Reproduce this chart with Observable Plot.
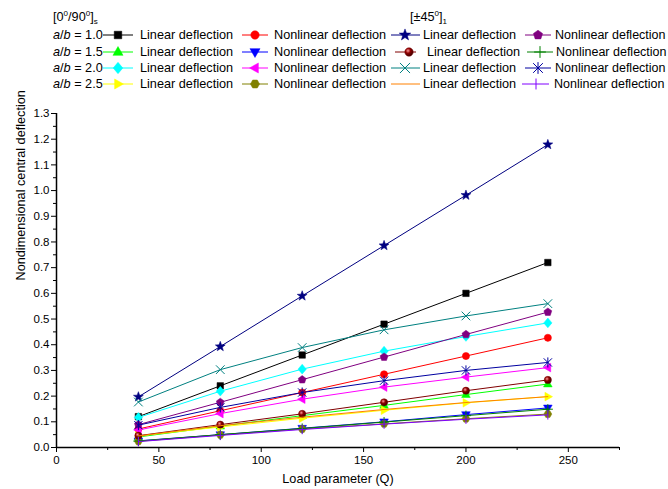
<!DOCTYPE html>
<html><head><meta charset="utf-8">
<script src="https://cdn.jsdelivr.net/npm/d3@7"></script>
<script src="https://cdn.jsdelivr.net/npm/@observablehq/plot@0.6"></script>
<style>
body{margin:0;background:#fff;font-family:"Liberation Sans",Arial,sans-serif;}
#chart{width:668px;height:489px;overflow:hidden;}
#chart svg{display:block;}
</style></head><body><div id="chart"></div>
<script>
// ---- data ----
const loads = [40, 80, 120, 160, 200, 240];
const xMajorTicks = [0, 50, 100, 150, 200, 250];
const xMinorTicks = [25, 75, 125, 175, 225, 275];
const yMajorTicks = [0, 0.1, 0.2, 0.3, 0.4, 0.5, 0.6, 0.7, 0.8, 0.9, 1.0, 1.1, 1.2, 1.3];
const yMinorTicks = [0.05, 0.15, 0.25, 0.35, 0.45, 0.55, 0.65, 0.75, 0.85, 0.95, 1.05, 1.15, 1.25];
const aspectLabels = ["1.0", "1.5", "2.0", "2.5"];
const kindLabels = ["Linear deflection", "Nonlinear deflection"];
// [0°/90°]s
const cp10Lin = [0.120, 0.240, 0.360, 0.480, 0.600, 0.720];
const cp10Non = [0.072, 0.143, 0.214, 0.285, 0.356, 0.427];
const cp15Lin = [0.041, 0.083, 0.124, 0.164, 0.206, 0.247];
const cp15Non = [0.026, 0.050, 0.075, 0.100, 0.128, 0.154];
const cp20Lin = [0.117, 0.219, 0.305, 0.375, 0.432, 0.485];
const cp20Non = [0.068, 0.132, 0.188, 0.235, 0.274, 0.311];
const cp25Lin = [0.045, 0.080, 0.114, 0.145, 0.174, 0.198];
const cp25Non = [0.024, 0.049, 0.072, 0.092, 0.112, 0.130];
// [±45°]1
const ap10Lin = [0.197, 0.393, 0.590, 0.786, 0.982, 1.179];
const ap10Non = [0.089, 0.176, 0.264, 0.352, 0.440, 0.527];
const ap15Lin = [0.046, 0.089, 0.131, 0.176, 0.221, 0.263];
const ap15Non = [0.025, 0.050, 0.074, 0.099, 0.124, 0.149];
const ap20Lin = [0.177, 0.303, 0.389, 0.458, 0.512, 0.560];
const ap20Non = [0.087, 0.156, 0.214, 0.260, 0.300, 0.331];
const ap25Lin = [0.045, 0.085, 0.118, 0.148, 0.175, 0.198];
const ap25Non = [0.023, 0.047, 0.070, 0.091, 0.110, 0.127];

// ---- symbols ----
function poly(pts){return {draw(ctx,size){const r=Math.sqrt(size/Math.PI);pts.forEach(([a,b],i)=>i?ctx.lineTo(a*r,b*r):ctx.moveTo(a*r,b*r));ctx.closePath();}};}
function segs(list){return {draw(ctx,size){const r=Math.sqrt(size/Math.PI);for(const [a,b,c,d] of list){ctx.moveTo(a*r,b*r);ctx.lineTo(c*r,d*r);}}};}
function ngon(n,k,rot){const p=[];for(let i=0;i<n;i++){const t=rot+i*2*Math.PI/n;p.push([k*Math.cos(t),k*Math.sin(t)]);}return poly(p);}
function starPts(){const p=[];for(let i=0;i<10;i++){const t=-Math.PI/2+i*Math.PI/5;const k=i%2?0.6:1.45;p.push([k*Math.cos(t),k*Math.sin(t)]);}return poly(p);}
const SYM = {
  square: poly([[-0.9,-0.9],[0.9,-0.9],[0.9,0.9],[-0.9,0.9]]),
  circle: {draw(ctx,size){const r=Math.sqrt(size/Math.PI);ctx.moveTo(r,0);ctx.arc(0,0,r,0,2*Math.PI);}},
  triUp: poly([[0,-1.3],[1.2,0.8],[-1.2,0.8]]),
  triDown: poly([[0,1.3],[1.2,-0.8],[-1.2,-0.8]]),
  triLeft: poly([[-1.3,0],[0.8,-1.2],[0.8,1.2]]),
  triRight: poly([[1.3,0],[-0.8,-1.2],[-0.8,1.2]]),
  diamond: poly([[0,-1.35],[1.15,0],[0,1.35],[-1.15,0]]),
  hexagon: ngon(6,1.1,0),
  star: starPts(),
  pentagon: ngon(5,1.15,-Math.PI/2),
  plus: segs([[-1.4,0,1.4,0],[0,-1.4,0,1.4]]),
  times: segs([[-1.2,-1.2,1.2,1.2],[-1.2,1.2,1.2,-1.2]]),
  asterisk: segs([[-1.15,-1.15,1.15,1.15],[-1.15,1.15,1.15,-1.15],[0,-1.4,0,1.4]]),
  vbar: segs([[0,-1.3,0,1.3]]),
  none: null
};

// ---- series (data + style) ----
const series = [
  {group:0,row:0,kind:0,values:cp10Lin,color:"#000000",sym:"square"},
  {group:0,row:0,kind:1,values:cp10Non,color:"#ff0000",sym:"circle"},
  {group:0,row:1,kind:0,values:cp15Lin,color:"#00ff00",sym:"triUp"},
  {group:0,row:1,kind:1,values:cp15Non,color:"#0000ff",sym:"triDown"},
  {group:0,row:2,kind:0,values:cp20Lin,color:"#00ffff",sym:"diamond"},
  {group:0,row:2,kind:1,values:cp20Non,color:"#ff00ff",sym:"triLeft"},
  {group:0,row:3,kind:0,values:cp25Lin,color:"#ffff00",sym:"triRight"},
  {group:0,row:3,kind:1,values:cp25Non,color:"#808000",sym:"hexagon"},
  {group:1,row:0,kind:0,values:ap10Lin,color:"#000080",sym:"star"},
  {group:1,row:0,kind:1,values:ap10Non,color:"#800080",sym:"pentagon"},
  {group:1,row:1,kind:0,values:ap15Lin,color:"#800000",sym:"circle",sphere:true},
  {group:1,row:1,kind:1,values:ap15Non,color:"#008000",sym:"plus",open:true},
  {group:1,row:2,kind:0,values:ap20Lin,color:"#008080",sym:"times",open:true},
  {group:1,row:2,kind:1,values:ap20Non,color:"#0000a0",sym:"asterisk",open:true},
  {group:1,row:3,kind:0,values:ap25Lin,color:"#ff8000",sym:"none"},
  {group:1,row:3,kind:1,values:ap25Non,color:"#8000ff",sym:"vbar",open:true}
];

const FONT = "'Liberation Sans', Arial, sans-serif";
const chart = document.getElementById("chart");

// ---- legend (above the plot) ----
const W = 668, LH = 100;
const leg = d3.select(chart).append("svg").attr("width", W).attr("height", LH)
  .style("font-family", FONT).style("font-size", "12.7px");
const defs = leg.append("defs");
const grad = defs.append("radialGradient").attr("id","sphereGrad").attr("cx","38%").attr("cy","35%").attr("r","65%");
grad.append("stop").attr("offset","0%").attr("stop-color","#ff9a9a");
grad.append("stop").attr("offset","45%").attr("stop-color","#900000");
grad.append("stop").attr("offset","100%").attr("stop-color","#3a0000");

// titles
const t0 = leg.append("text").attr("x", 53).attr("y", 21);
t0.append("tspan").text("[0");
t0.append("tspan").attr("dy",-5).attr("font-size","8px").text("0");
t0.append("tspan").attr("dy",5).text("/90");
t0.append("tspan").attr("dy",-5).attr("font-size","8px").text("0");
t0.append("tspan").attr("dy",5).text("]");
t0.append("tspan").attr("dy",3).attr("font-size","8px").text("s");
const t1 = leg.append("text").attr("x", 410).attr("y", 21);
t1.append("tspan").text("[±45");
t1.append("tspan").attr("dy",-5).attr("font-size","8px").text("0");
t1.append("tspan").attr("dy",5).text("]");
t1.append("tspan").attr("dy",3).attr("font-size","8px").text("1");

const rowY = [35, 52, 68, 84];
// legend item positions: [lineStart, lineEnd, marker, textX] per group-kind-row
const layoutFor = (g,k,r) => {
  if (g === 0) return k === 0 ? [103,133,118,140] : [242,268,255,274];
  if (k === 0) return r === 1 ? [395,416,409,427] : [391,420,405,423];
  return [[525,551,538,555],[527,553,540,556],[525,551,538,555],[522,549,536,554]][r];
};
aspectLabels.forEach((a,i)=>{
  const t = leg.append("text").attr("x",53).attr("y",rowY[i]).attr("dy","0.35em");
  t.append("tspan").attr("font-style","italic").text("a");
  t.append("tspan").text("/");
  t.append("tspan").attr("font-style","italic").text("b");
  t.append("tspan").text(" = " + a);
});
const LR = 4.2;
series.forEach(s=>{
  const [x0,x1,xm,xt] = layoutFor(s.group, s.kind, s.row);
  const y = rowY[s.row];
  leg.append("line").attr("x1",x0).attr("x2",x1).attr("y1",y).attr("y2",y).attr("stroke",s.color).attr("stroke-width",1);
  const sy = SYM[s.sym];
  if (sy) {
    const p = leg.append("path").attr("transform",`translate(${xm},${y})`)
      .attr("d", d3.symbol(sy, Math.PI*LR*LR)());
    if (s.open) p.attr("fill","none").attr("stroke",s.color).attr("stroke-width",1);
    else p.attr("fill", s.sphere ? "url(#sphereGrad)" : s.color).attr("stroke", s.color).attr("stroke-width",0.5);
  }
  const tx = leg.append("text").attr("x",xt).attr("y",y).attr("dy","0.35em").text(kindLabels[s.kind]);
  if (s.group === 1 && s.kind === 1) tx.attr("font-size","12.5px");
});

// ---- plot ----
const marks = [];
series.forEach(s=>{
  const pts = loads.map((q,i)=>({q, v:s.values[i]}));
  marks.push(Plot.line(pts,{x:"q",y:"v",stroke:s.color,strokeWidth:1}));
  const sy = SYM[s.sym];
  if (sy) {
    marks.push(Plot.dot(pts, s.open
      ? {x:"q",y:"v",symbol:sy,r:3.6,fill:"none",stroke:s.color,strokeWidth:1}
      : {x:"q",y:"v",symbol:sy,r:3.6,fill:s.sphere?"url(#sphereGrad)":s.color,stroke:s.color,strokeWidth:0.5}));
  }
});

const plot = Plot.plot({
  width: W, height: 389,
  marginLeft: 56, marginRight: 49, marginTop: 13, marginBottom: 42,
  style: {fontFamily: FONT, fontSize: "11.5px", color: "#000", background: "#fff", overflow: "visible"},
  x: {domain: [0, 275]},
  y: {domain: [0, 1.3]},
  marks: [
    Plot.axisX({ticks: xMinorTicks, tickSize: 3, tickFormat: () => "", label: null, strokeWidth: 1}),
    Plot.axisX({ticks: xMajorTicks, tickSize: 5, tickPadding: 3, tickFormat: d => String(d), label: null, fontSize: 11.5, strokeWidth: 1}),
    Plot.axisY({ticks: yMinorTicks, tickSize: 3, tickFormat: () => "", label: null, strokeWidth: 1}),
    Plot.axisY({ticks: yMajorTicks, tickSize: 5, tickPadding: 2, tickFormat: d3.format(".1f"), label: null, fontSize: 11.5, strokeWidth: 1}),
    ...marks,
    Plot.ruleY([0], {stroke: "#000", strokeWidth: 1.5}),
    Plot.ruleX([0], {stroke: "#000", strokeWidth: 1.5}),
    Plot.text(["Load parameter (Q)"], {text: d => d, frameAnchor: "bottom", dy: 35, fontSize: 12.7}),
    Plot.text(["Nondimensional central deflection"], {text: d => d, frameAnchor: "left", rotate: -90, dx: -36, fontSize: 12.7})
  ]
});
chart.appendChild(plot);
</script></body></html>
